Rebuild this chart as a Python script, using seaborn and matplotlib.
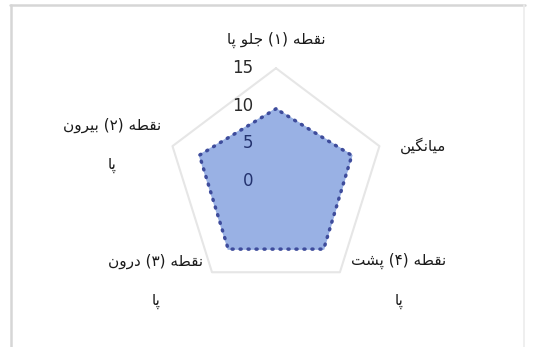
import numpy as np
import matplotlib
matplotlib.use("Agg")
import matplotlib.pyplot as plt
import seaborn as sns
import pandas as pd
from matplotlib.lines import Line2D

# data
categories = ["نقطه (۱) جلو پا", "نقطه (۲) بیرون\nپا", "نقطه (۳) درون\nپا",
              "نقطه (۴) پشت\nپا", "میانگین"]
values = [9.6, 11.1, 11.2, 11.2, 11.0]
r_ticks = [0, 5, 10, 15]
r_max = 15

# matplotlib does no arabic shaping, so pick presentation forms by hand
# letter: (isolated, final, initial, medial)
FORMS = {
    "ا": ("\uFE8D", "\uFE8E", None, None),
    "د": ("\uFEA9", "\uFEAA", None, None),
    "ر": ("\uFEAD", "\uFEAE", None, None),
    "و": ("\uFEED", "\uFEEE", None, None),
    "ب": ("\uFE8F", "\uFE90", "\uFE91", "\uFE92"),
    "پ": ("\uFB56", "\uFB57", "\uFB58", "\uFB59"),
    "ت": ("\uFE95", "\uFE96", "\uFE97", "\uFE98"),
    "ج": ("\uFE9D", "\uFE9E", "\uFE9F", "\uFEA0"),
    "ش": ("\uFEB5", "\uFEB6", "\uFEB7", "\uFEB8"),
    "ط": ("\uFEC1", "\uFEC2", "\uFEC3", "\uFEC4"),
    "ق": ("\uFED5", "\uFED6", "\uFED7", "\uFED8"),
    "گ": ("\uFB92", "\uFB93", "\uFB94", "\uFB95"),
    "ل": ("\uFEDD", "\uFEDE", "\uFEDF", "\uFEE0"),
    "م": ("\uFEE1", "\uFEE2", "\uFEE3", "\uFEE4"),
    "ن": ("\uFEE5", "\uFEE6", "\uFEE7", "\uFEE8"),
    "ه": ("\uFEE9", "\uFEEA", "\uFEEB", "\uFEEC"),
    "ی": ("\uFBFC", "\uFBFD", "\uFBFE", "\uFBFF"),
}
MIRROR = {"(": ")", ")": "("}


def shape_line(s):
    out = []
    for i, ch in enumerate(s):
        if ch not in FORMS:
            out.append(ch)
            continue
        prev = s[i - 1] if i > 0 else ""
        nxt = s[i + 1] if i + 1 < len(s) else ""
        joins_prev = prev in FORMS and FORMS[prev][2] is not None
        joins_next = FORMS[ch][2] is not None and nxt in FORMS
        f = FORMS[ch]
        if joins_prev and joins_next:
            out.append(f[3])
        elif joins_prev:
            out.append(f[1])
        elif joins_next:
            out.append(f[2])
        else:
            out.append(f[0])
    return "".join(MIRROR.get(c, c) for c in reversed(out))


def shape(s):
    return "\n".join(shape_line(l) for l in s.split("\n"))


sns.set_theme(style="white")
plt.rcParams["font.family"] = ["DejaVu Sans"]

n = len(categories)
theta = np.arange(n) * 2 * np.pi / n
df = pd.DataFrame({"theta": np.append(theta, 2 * np.pi),
                   "value": values + values[:1]})

fig = plt.figure(figsize=(5.33, 3.47), dpi=100)
fig.patch.set_facecolor("white")

# chart frame edges like the screenshot
fig.add_artist(Line2D([10 / 533, 525 / 533], [1 - 5 / 347, 1 - 5 / 347],
                      color="#d6d6d6", lw=1.8))
fig.add_artist(Line2D([11 / 533, 11 / 533], [0, 1 - 5 / 347],
                      color="#d6d6d6", lw=1.8))
fig.add_artist(Line2D([524 / 533, 524 / 533], [0, 1 - 5 / 347],
                      color="#ececec", lw=1.2))

ax = fig.add_axes([0.300, 0.1317, 0.4355, 0.6934], projection="polar")
ax.set_aspect("auto")
ax.set_theta_zero_location("N")
ax.set_theta_direction(1)
ax.set_ylim(0, 16)
ax.set_xticks([])
ax.set_yticks([])
ax.grid(False)
ax.spines["polar"].set_visible(False)
ax.set_facecolor("none")

# outer gridline (15) as pentagon
ax.plot(df["theta"], [r_max] * (n + 1), color="#e6e6e6", lw=1.5, zorder=1)

ax.fill(df["theta"], df["value"], color="#99b1e4", zorder=2)
sns.lineplot(data=df, x="theta", y="value", sort=False, estimator=None, ax=ax,
             color="#3e4c9c", lw=2.5, linestyle=(0, (0.3, 2.0)),
             dash_capstyle="round", zorder=3)
ax.set_xlabel("")
ax.set_ylabel("")

# radial tick labels, left of the top spoke
for t in r_ticks:
    col = "#24336f" if t < values[0] else "#2b2b2b"
    ax.annotate(str(t), xy=(0, t), xytext=(-23, 0), textcoords="offset pixels",
                ha="right", va="center", fontsize=12, color=col, zorder=4)

label_offsets = [(0, 28), (-60, 1), (-56, -9), (59, -9), (44, 0)]
for th, cat, off in zip(theta, categories, label_offsets):
    ax.annotate(shape(cat), xy=(th, r_max), xytext=off, textcoords="offset pixels",
                ha="center", va="center", multialignment="center",
                fontsize=11, color="#1a1a1a", linespacing=3.0)

fig.savefig("out.png", dpi=100)
